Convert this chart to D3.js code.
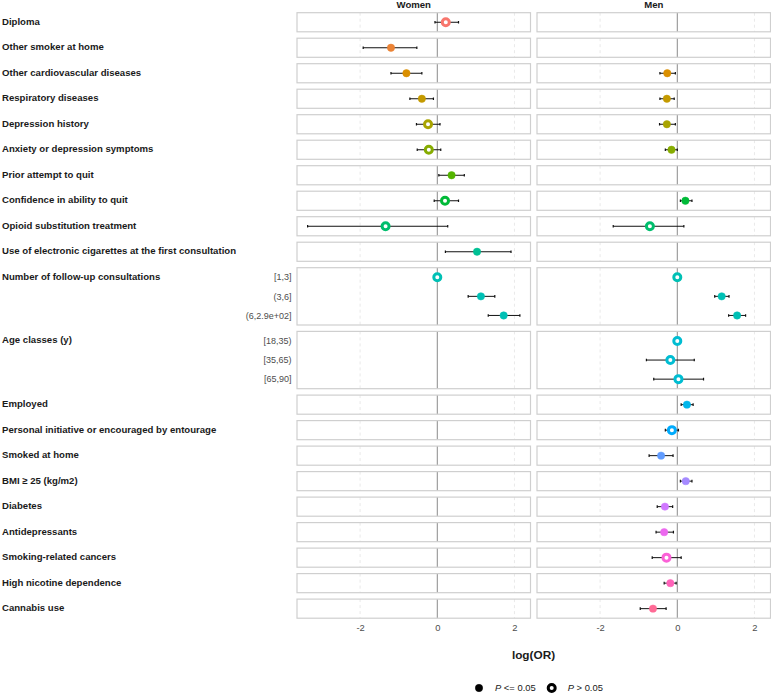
<!DOCTYPE html>
<html><head><meta charset="utf-8">
<script src="https://cdn.jsdelivr.net/npm/d3@7"></script>
<style>body{margin:0;background:#fff}svg{display:block;font-family:"Liberation Sans",Arial,sans-serif}</style>
</head><body><div id="chart"></div>
<script>
// ---- data ----
const variables = ["Diploma","Other smoker at home","Other cardiovascular diseases","Respiratory diseases","Depression history","Anxiety or depression symptoms","Prior attempt to quit","Confidence in ability to quit","Opioid substitution treatment","Use of electronic cigarettes at the first consultation","Number of follow-up consultations","Age classes (y)","Employed","Personal initiative or encouraged by entourage","Smoked at home","BMI \u2265 25 (kg/m2)","Diabetes","Antidepressants","Smoking-related cancers","High nicotine dependence","Cannabis use"];
const followUpLevels = ["[1,3]","(3,6]","(6,2.9e+02]"];
const ageLevels = ["[18,35)","[35,65)","[65,90]"];
const sexes = ["Women","Men"];
const xTicks = [-2,0,2];
// one value per row (rows = variables expanded by their levels)
const womenEst  = [0.22,-1.20,-0.80,-0.40,-0.24,-0.22,0.37,0.20,-1.34,1.03, 0,1.13,1.72, null,null,null, null,null,null,null,null,null,null,null,null];
const womenLow  = [-0.06,-1.92,-1.20,-0.71,-0.54,-0.52,0.04,-0.08,-3.36,0.21, null,0.80,1.32, null,null,null, null,null,null,null,null,null,null,null,null];
const womenHigh = [0.55,-0.53,-0.40,-0.10,0.07,0.09,0.70,0.55,0.27,1.91, null,1.49,2.14, null,null,null, null,null,null,null,null,null,null,null,null];
const womenSig  = [0,1,1,1,0,0,1,0,0,1, 0,1,1, 0,0,0, 0,0,0,0,0,0,0,0,0];
const menEst  = [null,null,-0.26,-0.27,-0.27,-0.15,null,0.21,-0.71,null, 0,1.15,1.55, 0,-0.18,0.03, 0.25,-0.14,-0.42,0.22,-0.32,-0.34,-0.28,-0.18,-0.63];
const menLow  = [null,null,-0.45,-0.45,-0.46,-0.31,null,0.08,-1.66,null, null,0.97,1.33, null,-0.80,-0.61, 0.10,-0.31,-0.73,0.08,-0.52,-0.55,-0.65,-0.34,-0.96];
const menHigh = [null,null,-0.05,-0.08,-0.05,0.00,null,0.38,0.17,null, null,1.34,1.77, null,0.44,0.68, 0.41,0.03,-0.11,0.38,-0.12,-0.10,0.10,-0.03,-0.29];
const menSig  = [0,0,1,1,1,1,0,1,0,0, 0,1,1, 0,0,0, 1,0,1,1,1,1,0,1,1];

// ---- colours: R hue_pal (polar LUV, c=100, l=65) ----
function hclR(h, c, l){
  const Xn=95.047,Yn=100,Zn=108.883;
  const un=4*Xn/(Xn+15*Yn+3*Zn), vn=9*Yn/(Xn+15*Yn+3*Zn);
  const Y = l>8 ? Yn*Math.pow((l+16)/116,3) : Yn*l/903.3;
  const hr=h*Math.PI/180, u=c*Math.cos(hr), v=c*Math.sin(hr);
  const up=u/(13*l)+un, vp=v/(13*l)+vn;
  const X=Y*9*up/(4*vp), Z=Y*(12-3*up-20*vp)/(4*vp);
  const x=X/100,y=Y/100,z=Z/100;
  let r= 3.2404542*x-1.5371385*y-0.4985314*z;
  let g=-0.9692660*x+1.8760108*y+0.0415560*z;
  let b= 0.0556434*x-0.2040259*y+1.0572252*z;
  const gam=t=>{t=Math.max(0,Math.min(1,t));return t<=0.0031308?12.92*t:1.055*Math.pow(t,1/2.4)-0.055;};
  return d3.rgb(gam(r)*255,gam(g)*255,gam(b)*255).formatHex();
}
const nV = variables.length;
const colorOf = d3.scaleOrdinal().domain(variables).range(variables.map((v,i)=>hclR(15+360/nV*i,100,65)));

// ---- rows ----
const levelsOf = {"Number of follow-up consultations": followUpLevels, "Age classes (y)": ageLevels};
const rows = [];
variables.forEach(v => (levelsOf[v] || [""]).forEach(l => rows.push({variable:v, level:l})));
const series = {
  Women: rows.map((r,i)=>({...r, est:womenEst[i], lo:womenLow[i], hi:womenHigh[i], sig:womenSig[i]})),
  Men:   rows.map((r,i)=>({...r, est:menEst[i], lo:menLow[i], hi:menHigh[i], sig:menSig[i]}))
};

// ---- layout ----
const W=771,H=694;
const top0=12.7, unit=19.1, gap=6.4;
const panelX = {Women:[297,530.5], Men:[537,770.5]};
const xDomain=[-3.635,2.415];
const panels=[]; let y=top0;
variables.forEach(v=>{const lv=levelsOf[v]||[""]; const h=lv.length*unit; panels.push({variable:v, levels:lv, y0:y, h}); y+=h+gap;});
const panelByVar = Object.fromEntries(panels.map(p=>[p.variable,p]));
panels.forEach(p=>{p.band=d3.scaleBand().domain(p.levels).range([p.y0,p.y0+p.h]);});
const yOf = d => {const p=panelByVar[d.variable]; return p.band(d.level)+p.band.bandwidth()/2;};
const bottom = panels[panels.length-1].y0+panels[panels.length-1].h;

const svg=d3.select("#chart").append("svg").attr("width",W).attr("height",H);

// labels
svg.append("g").selectAll("text").data(panels).join("text")
  .attr("x",2).attr("y",p=>p.y0+unit/2-1).attr("dy","0.35em")
  .attr("font-size",9.6).attr("font-weight","bold").attr("fill","#1a1a1a").text(p=>p.variable);
svg.append("g").selectAll("text").data(rows.filter(r=>r.level)).join("text")
  .attr("x",291.5).attr("y",yOf).attr("dy","0.35em").attr("text-anchor","end")
  .attr("font-size",9).attr("fill","#4d4d4d").text(r=>r.level);

sexes.forEach(sex=>{
  const x=d3.scaleLinear().domain(xDomain).range(panelX[sex]);
  const g=svg.append("g");
  g.append("text").attr("x",(panelX[sex][0]+panelX[sex][1])/2).attr("y",7.5)
    .attr("text-anchor","middle").attr("font-size",9.6).attr("font-weight","bold").attr("fill","#1a1a1a").text(sex);
  const pg=g.selectAll("g.panel").data(panels).join("g").attr("class","panel");
  pg.append("rect").attr("x",panelX[sex][0]).attr("y",p=>p.y0).attr("width",panelX[sex][1]-panelX[sex][0]).attr("height",p=>p.h)
    .attr("fill","#fff");
  pg.selectAll("line.grid").data(p=>xTicks.filter(t=>t!==0).map(t=>({t,p}))).join("line").attr("class","grid")
    .attr("x1",d=>x(d.t)).attr("x2",d=>x(d.t)).attr("y1",d=>d.p.y0).attr("y2",d=>d.p.y0+d.p.h)
    .attr("stroke","#e3e3e3").attr("stroke-width",0.8).attr("stroke-dasharray","3,3");
  pg.append("line").attr("x1",x(0)).attr("x2",x(0)).attr("y1",p=>p.y0).attr("y2",p=>p.y0+p.h)
    .attr("stroke","#8a8a8a").attr("stroke-width",1);
  pg.append("rect").attr("x",panelX[sex][0]).attr("y",p=>p.y0).attr("width",panelX[sex][1]-panelX[sex][0]).attr("height",p=>p.h)
    .attr("fill","none").attr("stroke","#cfcfcf").attr("stroke-width",1.2);
  const data=series[sex];
  const ci=data.filter(d=>d.lo!=null);
  g.append("g").selectAll("line").data(ci).join("line")
    .attr("x1",d=>x(d.lo)).attr("x2",d=>x(d.hi)).attr("y1",yOf).attr("y2",yOf).attr("stroke","#111").attr("stroke-width",1);
  g.append("g").selectAll("path").data(ci).join("path")
    .attr("d",d=>`M${x(d.lo)},${yOf(d)-1.3}V${yOf(d)+1.3}M${x(d.hi)},${yOf(d)-1.3}V${yOf(d)+1.3}`)
    .attr("stroke","#111").attr("stroke-width",1.2);
  const pts=data.filter(d=>d.est!=null);
  g.append("g").selectAll("circle").data(pts).join("circle")
    .attr("cx",d=>x(d.est)).attr("cy",yOf)
    .attr("r",d=>d.sig?3.7:3.5)
    .attr("fill",d=>d.sig?colorOf(d.variable):"#fff")
    .attr("stroke",d=>colorOf(d.variable)).attr("stroke-width",d=>d.sig?0.5:3);
  // axis
  const ax=svg.append("g").attr("transform",`translate(0,${bottom})`)
    .call(d3.axisBottom(x).tickValues(xTicks).tickSize(0).tickPadding(6).tickFormat(d=>String(d)));
  ax.select(".domain").remove();
  ax.selectAll("text").attr("font-size",9.4).attr("fill","#4d4d4d").attr("font-family","Liberation Sans, Arial, sans-serif");
});

svg.append("text").attr("x",533.5).attr("y",659).attr("text-anchor","middle")
  .attr("font-size",11.8).attr("font-weight","bold").attr("fill","#1a1a1a").text("log(OR)");

// legend
const legendItems=[{sig:1,label:" <= 0.05",x:479},{sig:0,label:" > 0.05",x:551.7}];
const lg=svg.append("g");
lg.selectAll("circle").data(legendItems).join("circle")
  .attr("cx",d=>d.x).attr("cy",688).attr("r",d=>d.sig?3.7:3.5)
  .attr("fill",d=>d.sig?"#000":"#fff").attr("stroke","#000").attr("stroke-width",d=>d.sig?0.5:3);
const lt=lg.selectAll("text").data(legendItems).join("text")
  .attr("x",d=>d.x+16).attr("y",688).attr("dy","0.35em").attr("font-size",9.4).attr("fill","#1a1a1a");
lt.append("tspan").attr("font-style","italic").text("P");
lt.append("tspan").text(d=>d.label);
</script></body></html>
